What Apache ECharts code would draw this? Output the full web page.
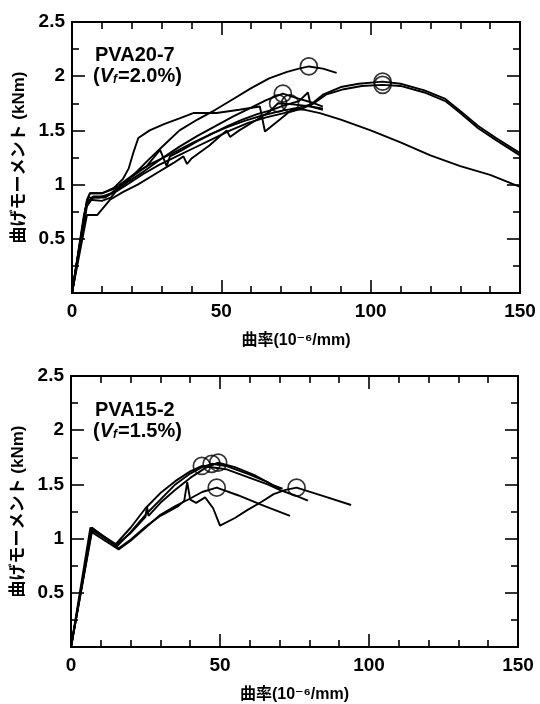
<!DOCTYPE html>
<html>
<head>
<meta charset="utf-8">
<script src="https://cdn.jsdelivr.net/npm/echarts@6/dist/echarts.min.js"></script>
<style>
  html, body { margin: 0; padding: 0; background: #ffffff; }
  #chart { width: 540px; height: 704px; }
</style>
</head>
<body>
<div id="chart"></div>
<script>
// Moment–curvature curves, two specimens (PVA20-7 top, PVA15-2 bottom).
// Each curve is a list of [curvature (10^-6/mm), moment (kNm)].

const xTicks = [0, 50, 100, 150];
const yTicks = [0.5, 1, 1.5, 2, 2.5];

// --- PVA20-7 (Vf = 2.0%)
const top_A = [[0,0],[4,0.72],[5.5,0.88],[9,0.88],[13,0.92],[17,1.0],[21,1.1],[26,1.24],[31,1.37],[36,1.5],[42,1.6],[48,1.69],[54,1.79],[60,1.89],[66,1.98],[72,2.04],[76,2.07],[79.3,2.09],[84,2.07],[88.6,2.03]];
const top_B = [[0,0],[5,0.86],[6,0.92],[10,0.92],[14,0.97],[17,1.05],[19,1.15],[20.6,1.3],[22.2,1.43],[26,1.5],[31,1.56],[36,1.61],[40.6,1.66],[48.4,1.66],[56,1.69],[62.9,1.72],[64.6,1.49],[69.6,1.6],[74,1.7],[78,1.69],[83,1.66],[90,1.6],[100,1.5],[110,1.39],[120,1.27],[130,1.17],[140,1.09],[150,0.98]];
const top_C1 = [[0,0],[5,0.85],[6,0.92],[10,0.92],[14,0.96],[18,1.04],[22,1.12],[27,1.2],[33,1.28],[40,1.38],[46,1.46],[52,1.53],[58,1.59],[64,1.64],[70,1.68],[76,1.71],[80,1.74],[84,1.83],[90,1.9],[96,1.93],[104,1.95],[110,1.93],[118,1.87],[125,1.79],[130,1.68],[136,1.54],[142,1.43],[150,1.29]];
const top_C2 = [[0,0],[5,0.83],[7,0.89],[11,0.89],[15,0.94],[19,1.01],[24,1.1],[29,1.18],[35,1.26],[41,1.34],[47,1.42],[53,1.5],[59,1.57],[65,1.62],[71,1.66],[77,1.7],[81,1.75],[85,1.83],[91,1.88],[97,1.91],[104,1.92],[110,1.91],[118,1.85],[125,1.77],[130,1.66],[136,1.52],[142,1.41],[150,1.27]];
const top_D = [[0,0],[4.5,0.78],[6,0.86],[10,0.85],[13,0.88],[16,0.98],[20,1.07],[25,1.17],[29.5,1.32],[31.7,1.17],[32.8,1.26],[37,1.32],[42,1.4],[47,1.47],[52,1.54],[57,1.6],[62,1.65],[67,1.69],[71,1.73],[76,1.77],[79,1.85],[80,1.72],[84,1.69]];
const top_E = [[0,0],[5,0.8],[7,0.88],[11,0.88],[15,0.95],[19,1.03],[24,1.12],[30,1.24],[36,1.35],[42,1.45],[48,1.54],[54,1.63],[60,1.71],[65,1.78],[70.6,1.84],[75,1.8],[80,1.76],[84,1.72]];
const top_F = [[0,0],[5,0.72],[8.5,0.72],[12.7,0.86],[17,0.93],[22,1.0],[28,1.1],[34,1.2],[37.3,1.26],[38.5,1.19],[40,1.24],[46,1.36],[51.8,1.5],[52.9,1.44],[56,1.5],[62,1.6],[66,1.67],[69,1.75],[74,1.74],[80,1.72],[84,1.7]];
const topPeaks = [[79.3,2.09],[70.6,1.84],[69,1.75],[73,1.75],[104,1.95],[104,1.92]];

// --- PVA15-2 (Vf = 1.5%)
const bot_G1 = [[0,0],[6.5,1.1],[15,0.95],[20,1.1],[25,1.28],[30,1.42],[35,1.53],[40,1.62],[44,1.67],[52,1.64],[60,1.56],[66,1.5],[70,1.45],[75,1.4],[79.5,1.35]];
const bot_G2 = [[0,0],[7,1.08],[15.5,0.93],[20,1.06],[25,1.22],[30,1.36],[35,1.5],[40,1.6],[44,1.66],[47.2,1.69],[52,1.67],[60,1.59],[66,1.52],[70,1.46]];
const bot_G3 = [[0,0],[7,1.1],[15,0.94],[20,1.05],[25,1.2],[25.5,1.3],[26,1.21],[30,1.33],[35,1.45],[40,1.56],[45,1.65],[49.4,1.7],[55,1.66],[62,1.58],[68,1.49],[71,1.46]];
const bot_I = [[0,0],[7,1.06],[16,0.9],[20,0.98],[25,1.1],[30,1.22],[35,1.3],[40,1.37],[44,1.43],[48.9,1.47],[56,1.4],[65,1.3],[73.5,1.21]];
const bot_H = [[0,0],[7,1.1],[16,0.91],[20,0.99],[25,1.11],[30,1.21],[36,1.3],[38,1.35],[39,1.52],[40,1.36],[42,1.33],[45,1.38],[47.7,1.28],[50,1.12],[55,1.19],[59,1.26],[64,1.34],[68,1.41],[72,1.45],[75.7,1.47],[85,1.39],[94,1.31]];
const bottomPeaks = [[43.9,1.67],[47.2,1.69],[49.4,1.70],[48.9,1.47],[75.7,1.47]];

const INK = '#000000';
const FONT = '"Liberation Sans", Arial, "DejaVu Sans", "Noto Sans CJK JP", sans-serif';
const CJK = '"Liberation Sans", "DejaVu Sans", "Noto Sans CJK JP", sans-serif';

function xAxisPair(gridIndex) {
  const common = {
    gridIndex,
    type: 'value',
    min: xTicks[0],
    max: xTicks[xTicks.length - 1],
    interval: xTicks[1] - xTicks[0],
    axisLine: { show: true, onZero: false, lineStyle: { color: INK, width: 2 } },
    axisTick: { show: true, inside: true, length: 13, lineStyle: { color: INK, width: 1.6 } },
    minorTick: { show: true, splitNumber: 5, length: 7, lineStyle: { color: INK, width: 1.6 } },
    splitLine: { show: false },
    minorSplitLine: { show: false },
  };
  return [
    {
      ...common,
      position: 'bottom',
      axisLabel: { color: INK, fontSize: 19, fontWeight: 'bold', margin: 9, fontFamily: FONT },
      name: '曲率(10⁻⁶/mm)',
      nameLocation: 'middle',
      nameGap: 40,
      nameTextStyle: { color: INK, fontSize: 16, fontWeight: 'bold', fontFamily: CJK },
    },
    { ...common, position: 'top', axisLabel: { show: false } },
  ];
}

function yAxisPair(gridIndex) {
  const common = {
    gridIndex,
    type: 'value',
    min: 0,
    max: yTicks[yTicks.length - 1],
    interval: 0.5,
    axisLine: { show: true, onZero: false, lineStyle: { color: INK, width: 2 } },
    axisTick: { show: true, inside: true, length: 13, lineStyle: { color: INK, width: 1.6 } },
    minorTick: { show: true, splitNumber: 2, length: 7, lineStyle: { color: INK, width: 1.6 } },
    splitLine: { show: false },
    minorSplitLine: { show: false },
  };
  return [
    {
      ...common,
      position: 'left',
      axisLabel: {
        color: INK, fontSize: 19, fontWeight: 'bold', margin: 7, fontFamily: FONT,
        formatter: (v) => (yTicks.includes(v) ? String(v) : ''),
      },
      name: '曲げモーメント (kNm)',
      nameLocation: 'middle',
      nameRotate: 90,
      nameGap: 38,
      nameTextStyle: { color: INK, fontSize: 17, fontWeight: 'bold', fontFamily: CJK },
    },
    { ...common, position: 'right', axisLabel: { show: false } },
  ];
}

function curve(data, axisIndex) {
  return {
    type: 'line',
    xAxisIndex: axisIndex,
    yAxisIndex: axisIndex,
    data,
    symbol: 'none',
    showSymbol: false,
    silent: true,
    lineStyle: { color: INK, width: 1.9 },
  };
}

function peaks(data, axisIndex) {
  return {
    type: 'scatter',
    xAxisIndex: axisIndex,
    yAxisIndex: axisIndex,
    data,
    symbol: 'circle',
    symbolSize: 17,
    silent: true,
    itemStyle: { color: 'rgba(0,0,0,0)', borderColor: INK, borderWidth: 1.7 },
    z: 3,
  };
}

function specimenLabel(left, top, name, vf) {
  return [
    { type: 'text', left, top, style: { text: name, font: 'bold 20px ' + FONT, fill: INK } },
    {
      type: 'text', left: left - 2, top: top + 21,
      style: {
        text: '({v|V}{s|f}{n|=' + vf + ')}',
        font: 'bold 20px ' + FONT,
        fill: INK,
        rich: {
          v: { fontSize: 20, fontStyle: 'italic', fontWeight: 'bold', fontFamily: FONT, fill: INK },
          s: { fontSize: 12, fontStyle: 'italic', fontWeight: 'bold', fontFamily: FONT, fill: INK, padding: [8, 1, 0, 0] },
          n: { fontSize: 20, fontWeight: 'bold', fontFamily: FONT, fill: INK },
        },
      },
    },
  ];
}

const chart = echarts.init(document.getElementById('chart'), null, { renderer: 'canvas' });
chart.setOption({
  animation: false,
  backgroundColor: '#ffffff',
  grid: [
    { left: 72, top: 22, width: 448, height: 271 },
    { left: 71, top: 376, width: 447, height: 274 },
  ],
  xAxis: [...xAxisPair(0), ...xAxisPair(1)],
  yAxis: [...yAxisPair(0), ...yAxisPair(1)],
  series: [
    ...[top_A, top_B, top_C1, top_C2, top_D, top_E, top_F].map((d) => curve(d, 0)),
    peaks(topPeaks, 0),
    ...[bot_G1, bot_G2, bot_G3, bot_I, bot_H].map((d) => curve(d, 2)),
    peaks(bottomPeaks, 2),
  ],
  graphic: [
    ...specimenLabel(95, 45, 'PVA20-7', '2.0%'),
    ...specimenLabel(95, 400, 'PVA15-2', '1.5%'),
  ],
});
</script>
</body>
</html>
